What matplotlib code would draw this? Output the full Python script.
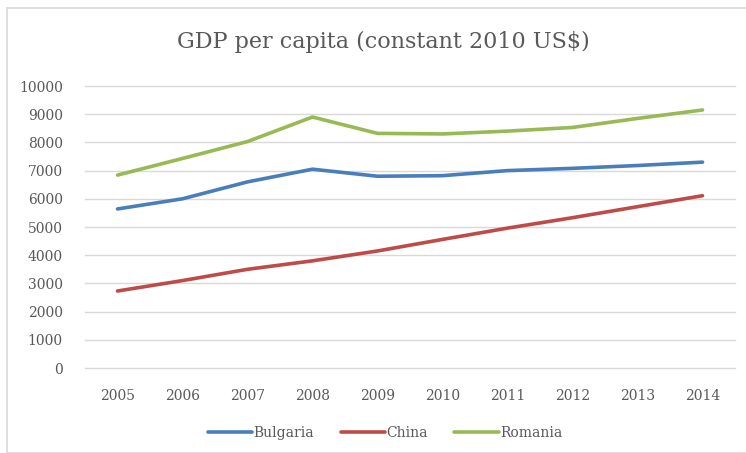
import matplotlib
matplotlib.use("Agg")
import matplotlib.pyplot as plt
from matplotlib.patches import Rectangle

years = ["2005", "2006", "2007", "2008", "2009", "2010", "2011", "2012", "2013", "2014"]
bulgaria = [5640, 6000, 6600, 7050, 6800, 6820, 7000, 7080, 7180, 7300]
china = [2730, 3100, 3500, 3800, 4150, 4560, 4960, 5330, 5720, 6110]
romania = [6840, 7430, 8030, 8900, 8320, 8300, 8400, 8530, 8850, 9150]

plt.rcParams["font.family"] = ["DejaVu Serif", "Liberation Serif"]

W, H = 746, 453
fig = plt.figure(figsize=(W / 100, H / 100), dpi=100)
fig.patch.set_facecolor("white")

# outer chart frame
fig.patches.append(Rectangle((7 / W, 0), 1, 1 - 8 / H, transform=fig.transFigure,
                             fill=False, edgecolor="#d9d9d9", linewidth=1.2))

ax = fig.add_axes([85 / W, 1 - 368 / H, 650 / W, (368 - 86) / H])
x = list(range(len(years)))
ax.plot(x, bulgaria, color="#4A7EBB", lw=2.6, label="Bulgaria", solid_capstyle="round")
ax.plot(x, china, color="#BE4B48", lw=2.6, label="China", solid_capstyle="round")
ax.plot(x, romania, color="#98B954", lw=2.6, label="Romania", solid_capstyle="round")

ax.set_xlim(-0.5, len(years) - 0.5)
ax.set_ylim(0, 10000)
ax.set_yticks(range(0, 10001, 1000))
ax.set_xticks(x)
ax.set_xticklabels(years)
ax.yaxis.grid(True, color="#d9d9d9", lw=1)
for gl in ax.get_ygridlines():
    gl.set_clip_on(False)
ax.set_axisbelow(True)
for s in ax.spines.values():
    s.set_visible(False)
ax.tick_params(length=0, labelsize=10, colors="#595959")
ax.tick_params(axis="y", pad=16)
ax.tick_params(axis="x", pad=15)

fig.text(383 / W, 1 - 42 / H, "GDP per capita (constant 2010 US$)", ha="center", va="center",
         fontsize=16, color="#595959")

leg = fig.legend(loc="center", bbox_to_anchor=(385 / W, 1 - 433 / H), ncol=3, frameon=False,
                 fontsize=10, handlelength=3.2, handletextpad=0.1, columnspacing=1.9)
for t in leg.get_texts():
    t.set_color("#595959")

fig.savefig("out.png", dpi=100)
